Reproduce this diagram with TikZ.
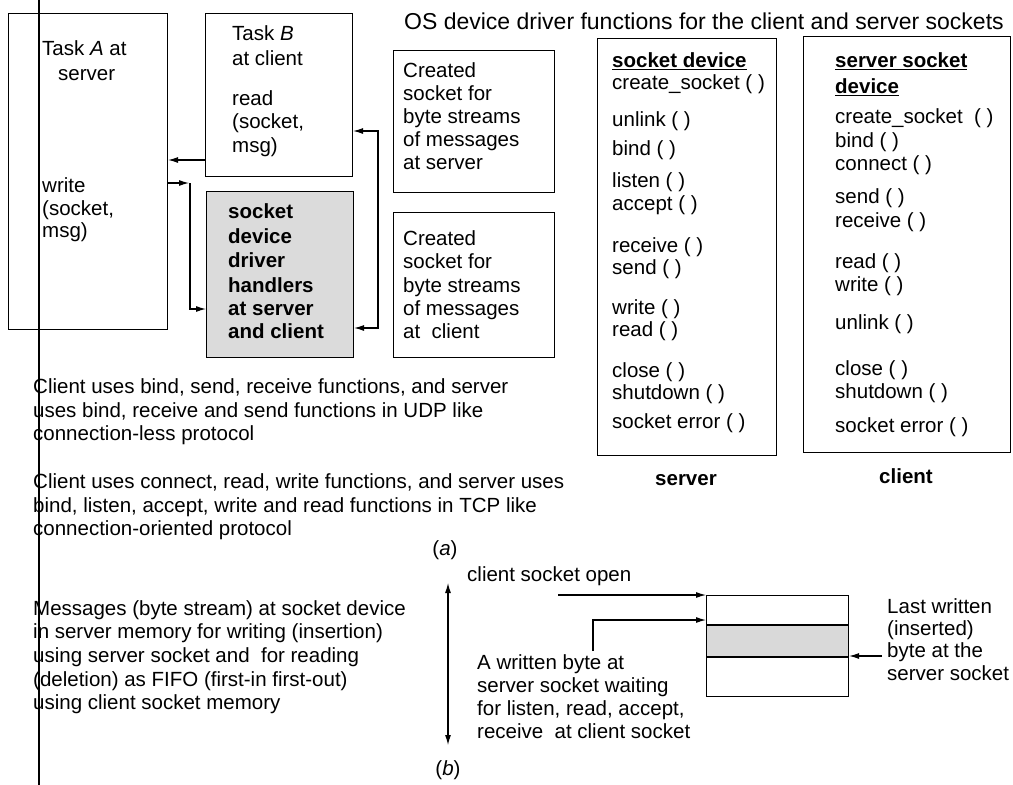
\documentclass[tikz,border=0pt]{standalone}
\usepackage{fontspec}
\setmainfont{Liberation Sans}
\usetikzlibrary{arrows.meta}
\begin{document}
\begin{tikzpicture}[x=1pt,y=-1pt,
  box/.style={draw, line width=1.1pt, anchor=north west, inner sep=0pt},
  txt/.style={anchor=west, inner sep=0pt, text height=15pt, text depth=4pt, font=\fontsize{20.5}{23.5}\selectfont},
  btxt/.style={txt, font=\fontsize{20.5}{23.5}\selectfont\bfseries},
  conn/.style={line width=1.1pt},
  tip/.style={-{Latex[length=10pt,width=6pt]}},
  tips/.style={{Latex[length=10pt,width=6pt]}-{Latex[length=10pt,width=6pt]}}]
\useasboundingbox (0,0) rectangle (1013,785);
\clip (0,0) rectangle (1013,785);

% boxes
\node[box, minimum width=159pt, minimum height=316pt] (taskA) at (8,13) {};
\node[box, minimum width=147pt, minimum height=163pt] (taskB) at (205,13) {};
\node[box, fill=gray!28, minimum width=147pt, minimum height=166pt] (drv) at (206,191) {};
\node[box, minimum width=161pt, minimum height=142pt] (crs) at (393,50) {};
\node[box, minimum width=161pt, minimum height=145pt] (crc) at (393,212) {};
\node[box, minimum width=179pt, minimum height=417pt] (srv) at (597,38) {};
\node[box, minimum width=207pt, minimum height=416pt] (cli) at (803,36) {};
\node[box, draw=none, fill=gray!30, minimum width=142pt, minimum height=31pt] (band) at (706,625) {};
\node[box, minimum width=142pt, minimum height=101pt] (fifo) at (706,595) {};
\draw[line width=2.4pt] (band.north west) -- (band.north east);
\draw[line width=2.4pt] (band.south west) -- (band.south east);

% binding line of the scan
\draw[line width=1.5pt] (39,0) -- (39,785);

% Task A
\node[txt] (ta1) at (42,50) {Task \textit{A} at};
\node[txt] (ta2) at (58,75) {server};
\node[txt] (ta3) at (42,187) {write};
\node[txt] (ta4) at (42,210) {(socket,};
\node[txt] (ta5) at (42,232) {msg)};
% Task B
\node[txt] (tb1) at (232,35) {Task \textit{B}};
\node[txt] (tb2) at (232,60) {at client};
\node[txt] (tb3) at (232,100) {read};
\node[txt] (tb4) at (232,123) {(socket,};
\node[txt] (tb5) at (232,147) {msg)};
% driver box
\foreach \t/\y [count=\i] in {{socket}/213,{device}/238,{driver}/262,{handlers}/287,{at server}/310,{and client}/333}
  \node[btxt] (dv\i) at (228,\y) {\t};
% created sockets
\foreach \t/\y [count=\i] in {{Created}/72,{socket for}/95,{byte streams}/118,{of messages}/141,{at server}/164}
  \node[txt] (cs\i) at (403,\y) {\t};
\foreach \t/\y [count=\i] in {{Created}/240,{socket for}/263,{byte streams}/287,{of messages}/310,{at\ \ client}/333}
  \node[txt] (cc\i) at (403,\y) {\t};

% title
\node[txt, font=\fontsize{23}{26}\selectfont] (title) at (404,24) {OS device driver functions for the client and server sockets};

% server list
\foreach \t/\y [count=\i] in {{\underline{\textbf{socket device}}}/62,{create\_socket ( )}/84,{unlink ( )}/121,{bind ( )}/150,{listen ( )}/182,{accept ( )}/205,{receive ( )}/247,{send ( )}/269,{write ( )}/309,{read ( )}/331,{close ( )}/372,{shutdown ( )}/394,{socket error ( )}/423}
  \node[txt] (sv\i) at (612,\y) {\t};
% client list
\foreach \t/\y [count=\i] in {{\underline{\textbf{server socket}}}/62,{\underline{\textbf{device}}}/88,{create\_socket\ \ ( )}/118,{bind ( )}/142,{connect ( )}/165,{send ( )}/198,{receive ( )}/222,{read ( )}/263,{write ( )}/286,{unlink ( )}/324,{close ( )}/370,{shutdown ( )}/393,{socket error ( )}/427}
  \node[txt] (cl\i) at (835,\y) {\t};
\node[btxt, anchor=center] (lsrv) at (686,480) {server};
\node[btxt, anchor=center] (lcli) at (906,478) {client};

% paragraphs
\foreach \t/\y [count=\i] in {{Client uses bind, send, receive functions, and server}/388,{uses bind, receive and send functions in UDP like}/412,{connection-less protocol}/435,{Client uses connect, read, write functions, and server uses}/483,{bind, listen, accept, write and read functions in TCP like}/507,{connection-oriented protocol}/530}
  \node[txt] (p\i) at (33,\y) {\t};
\node[txt, anchor=center] (capa) at (445,550) {(\textit{a})};

\foreach \t/\y [count=\i] in {{Messages (byte stream) at socket device}/610,{in server memory for writing (insertion)}/633,{using server socket and\ \ for reading}/657,{(deletion) as FIFO (first-in first-out)}/681,{using client socket memory}/704}
  \node[txt] (m\i) at (33,\y) {\t};

\node[txt] (open) at (467,576) {client socket open};
\foreach \t/\y [count=\i] in {{A written byte at}/664,{server socket waiting}/687,{for listen, read, accept,}/710,{receive\ \ at client socket}/733}
  \node[txt] (w\i) at (477,\y) {\t};
\foreach \t/\y [count=\i] in {{Last written}/608,{(inserted)}/630,{byte at the}/652,{server socket}/675}
  \node[txt] (lw\i) at (887,\y) {\t};
\node[txt, anchor=center] (capb) at (448,770) {(\textit{b})};

% connectors (a)
\coordinate (c0) at (186,160);
\draw[conn, tip] (taskB.west |- c0) -- (taskA.east |- c0);
\coordinate (c1) at (190,183);
\coordinate (c2) at (190,309);
\draw[conn, tip] (taskA.east |- c1) -- ([xshift=-1pt]c1);
\draw[conn, tip] (c1) -- (c2) -- (drv.west |- c2);
\coordinate (c3) at (378,131);
\coordinate (c4) at (378,328);
\draw[conn, tips] (taskB.east |- c3) -- (c3) -- (c4) -- (drv.east |- c4);

% connectors (b)
\coordinate (d1) at (558,595);
\draw[conn, tip] (d1) -- (fifo.north west);
\coordinate (d2) at (593,651);
\coordinate (d3) at (593,620);
\draw[conn, tip] (d2) -- (d3) -- (fifo.west |- d3);
\coordinate (d4) at (882,656);
\draw[conn, tip] (d4) -- (fifo.east |- d4);
\coordinate (v1) at (448,583);
\coordinate (v2) at (448,745);
\draw[conn, tips] (v1) -- (v2);
\end{tikzpicture}
\end{document}
